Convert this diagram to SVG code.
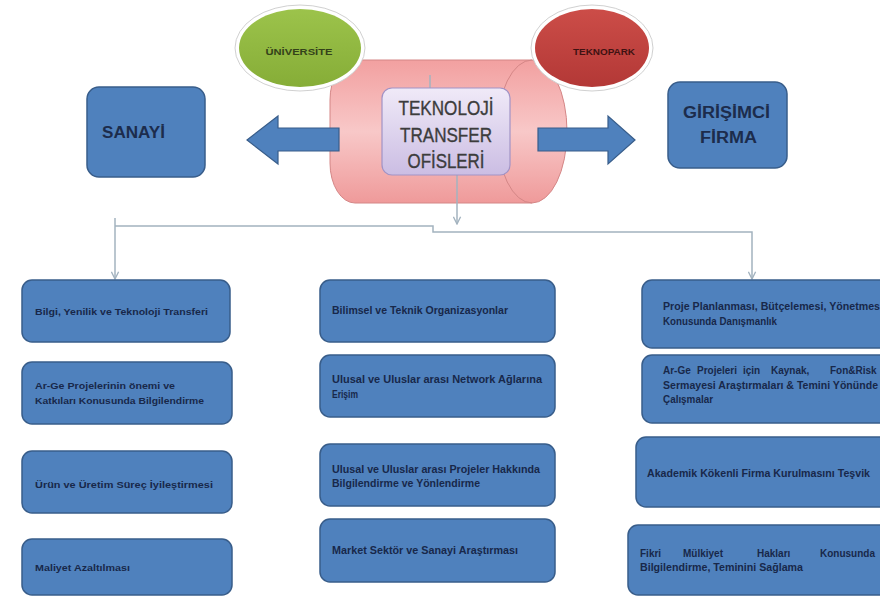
<svg xmlns="http://www.w3.org/2000/svg" width="880" height="601" viewBox="0 0 880 601">
<style>
.box{fill:#4f81bd;stroke:#385d8a;stroke-width:1.5}
.bt{font-family:"Liberation Sans",Arial,sans-serif;font-weight:bold;fill:#18284a;font-size:10px}
.bts{font-family:"Liberation Sans",Arial,sans-serif;font-weight:bold;fill:#18284a;font-size:9.5px}
.big{font-family:"Liberation Sans",Arial,sans-serif;font-weight:bold;fill:#1c2c4c;font-size:16px}
.conn{fill:none;stroke:#a3b3bf;stroke-width:1.5}
.blk{fill:#4f81bd;stroke:#385d8a;stroke-width:1.2}
.tto{font-family:"Liberation Sans",Arial,sans-serif;fill:#3c3c3c;font-size:20px;stroke:#3c3c3c;stroke-width:0.35}
.ell{font-family:"Liberation Sans",Arial,sans-serif;font-weight:bold;font-size:9px}
</style>
<defs>
<linearGradient id="pink" x1="0" y1="0" x2="0" y2="1">
<stop offset="0" stop-color="#f2a0a0"/><stop offset="0.5" stop-color="#f8c8c8"/><stop offset="1" stop-color="#ef9a9a"/>
</linearGradient>
<linearGradient id="lav" x1="0" y1="0" x2="0" y2="1">
<stop offset="0" stop-color="#f0eaf8"/><stop offset="1" stop-color="#cbbde3"/>
</linearGradient>
<linearGradient id="green" x1="0" y1="0" x2="0" y2="1">
<stop offset="0" stop-color="#9cc34b"/><stop offset="1" stop-color="#86ad37"/>
</linearGradient>
<linearGradient id="red" x1="0" y1="0" x2="0" y2="1">
<stop offset="0" stop-color="#cc4d48"/><stop offset="1" stop-color="#b33836"/>
</linearGradient>
<marker id="ah" viewBox="0 0 10 10" refX="9" refY="5" markerWidth="9" markerHeight="9" markerUnits="userSpaceOnUse" orient="auto">
<path d="M1,1 L9,5 L1,9" fill="none" stroke="#a3b3bf" stroke-width="1.5"/>
</marker>
</defs>
<rect width="880" height="601" fill="#ffffff"/>

<g id="ofis-silindir">
<path d="M355,60 H532 A35,71.5 0 0 1 532,203 H355 A25,40 0 0 1 330,163 V100 A25,40 0 0 1 355,60 Z" fill="url(#pink)" stroke="#d48686" stroke-width="1"/>
<path d="M532,60 A35,71.5 0 0 0 532,203" fill="none" stroke="#d48686" stroke-width="1"/>
</g>

<g id="universite">
<ellipse cx="300" cy="48" rx="65" ry="43" fill="#ffffff" stroke="#c4c4c4" stroke-width="0.8"/>
<ellipse cx="300" cy="48" rx="61" ry="39" fill="url(#green)"/>
<text class="ell" x="299" y="55" text-anchor="middle" fill="#34421a" textLength="67" lengthAdjust="spacingAndGlyphs">ÜNİVERSİTE</text>
</g>

<g id="teknopark">
<ellipse cx="592" cy="48" rx="61" ry="43" fill="#ffffff" stroke="#c4c4c4" stroke-width="0.8"/>
<ellipse cx="592" cy="48" rx="57" ry="39" fill="url(#red)"/>
<text class="ell" x="604" y="55" text-anchor="middle" fill="#3e1212" textLength="62" lengthAdjust="spacingAndGlyphs">TEKNOPARK</text>
</g>

<g id="ok-sol">
<path class="blk" d="M247,140 L278,116 L278,128 L339,128 L339,151 L278,151 L278,164 Z"/>
</g>
<g id="ok-sag">
<path class="blk" d="M635,140 L608,116 L608,128 L538,128 L538,151 L608,151 L608,164 Z"/>
</g>

<g id="sanayi">
<rect class="box" x="87" y="87" width="118" height="90" rx="12"/>
<text class="big" x="102" y="138" textLength="63" lengthAdjust="spacingAndGlyphs">SANAYİ</text>
</g>

<g id="girisimci-firma">
<rect class="box" x="668" y="82" width="119" height="86" rx="12"/>
<text class="big" x="683" y="118" textLength="87" lengthAdjust="spacingAndGlyphs">GİRİŞİMCİ</text>
<text class="big" x="700" y="143" textLength="57" lengthAdjust="spacingAndGlyphs">FİRMA</text>
</g>

<g id="connectors">
<path class="conn" d="M430,75 V88"/>
<path class="conn" d="M457,175 V224" marker-end="url(#ah)"/>
<path class="conn" d="M115,218 V279" marker-end="url(#ah)"/>
<path class="conn" d="M115,226 H433 V232 H752 V279" marker-end="url(#ah)"/>
</g>

<g id="tto">
<rect x="382" y="88" width="128" height="87" rx="10" fill="url(#lav)" stroke="#a193c6" stroke-width="1.2"/>
<text class="tto" x="446" y="115" text-anchor="middle" textLength="95" lengthAdjust="spacingAndGlyphs">TEKNOLOJİ</text>
<text class="tto" x="446" y="142" text-anchor="middle" textLength="92" lengthAdjust="spacingAndGlyphs">TRANSFER</text>
<text class="tto" x="446" y="168" text-anchor="middle" textLength="77" lengthAdjust="spacingAndGlyphs">OFİSLERİ</text>
</g>

<g id="l1">
<rect class="box" x="22" y="280" width="208" height="62" rx="10"/>
<text class="bts" x="35" y="315" textLength="173" lengthAdjust="spacingAndGlyphs">Bilgi, Yenilik ve Teknoloji Transferi</text>
</g>
<g id="l2">
<rect class="box" x="22" y="362" width="210" height="62" rx="10"/>
<text class="bts" x="35" y="389" textLength="140" lengthAdjust="spacingAndGlyphs">Ar-Ge Projelerinin önemi ve</text>
<text class="bts" x="35" y="404" textLength="169" lengthAdjust="spacingAndGlyphs">Katkıları Konusunda  Bilgilendirme</text>
</g>
<g id="l3">
<rect class="box" x="22" y="451" width="210" height="62" rx="10"/>
<text class="bts" x="35" y="488" textLength="178" lengthAdjust="spacingAndGlyphs">Ürün ve Üretim Süreç İyileştirmesi</text>
</g>
<g id="l4">
<rect class="box" x="22" y="539" width="210" height="56" rx="10"/>
<text class="bts" x="35" y="571" textLength="95" lengthAdjust="spacingAndGlyphs">Maliyet Azaltılması</text>
</g>

<g id="m1">
<rect class="box" x="320" y="280" width="235" height="62" rx="10"/>
<text class="bt" x="332" y="314" textLength="176" lengthAdjust="spacingAndGlyphs">Bilimsel ve Teknik Organizasyonlar</text>
</g>
<g id="m2">
<rect class="box" x="320" y="355" width="235" height="62" rx="10"/>
<text class="bt" x="332" y="383" textLength="210" lengthAdjust="spacingAndGlyphs">Ulusal ve Uluslar arası Network Ağlarına</text>
<text class="bt" x="332" y="398" textLength="26" lengthAdjust="spacingAndGlyphs">Erişim</text>
</g>
<g id="m3">
<rect class="box" x="320" y="444" width="235" height="62" rx="10"/>
<text class="bt" x="332" y="473" textLength="208" lengthAdjust="spacingAndGlyphs">Ulusal ve Uluslar arası Projeler Hakkında</text>
<text class="bt" x="332" y="487" textLength="148" lengthAdjust="spacingAndGlyphs">Bilgilendirme ve Yönlendirme</text>
</g>
<g id="m4">
<rect class="box" x="320" y="519" width="235" height="63" rx="10"/>
<text class="bt" x="332" y="554" textLength="186" lengthAdjust="spacingAndGlyphs">Market Sektör ve Sanayi Araştırması</text>
</g>

<g id="r1">
<rect class="box" x="642" y="280" width="260" height="68" rx="10"/>
<text class="bt" x="663" y="310" textLength="220" lengthAdjust="spacingAndGlyphs">Proje Planlanması, Bütçelemesi, Yönetmesi</text>
<text class="bt" x="663" y="324.5" textLength="114" lengthAdjust="spacingAndGlyphs">Konusunda Danışmanlık</text>
</g>
<g id="r2">
<rect class="box" x="642" y="355" width="260" height="68" rx="10"/>
<text class="bt" y="374"><tspan x="663">Ar-Ge</tspan><tspan x="697">Projeleri</tspan><tspan x="743">için</tspan><tspan x="771">Kaynak,</tspan><tspan x="830">Fon&amp;Risk</tspan></text>
<text class="bt" x="663" y="388.5" textLength="215" lengthAdjust="spacingAndGlyphs">Sermayesi Araştırmaları &amp; Temini Yönünde</text>
<text class="bt" x="663" y="403" textLength="50" lengthAdjust="spacingAndGlyphs">Çalışmalar</text>
</g>
<g id="r3">
<rect class="box" x="636" y="437" width="266" height="70" rx="10"/>
<text class="bt" x="647" y="477" textLength="223" lengthAdjust="spacingAndGlyphs">Akademik Kökenli Firma Kurulmasını Teşvik</text>
</g>
<g id="r4">
<rect class="box" x="628" y="525" width="274" height="70" rx="10"/>
<text class="bt" y="557"><tspan x="640">Fikri</tspan><tspan x="683">Mülkiyet</tspan><tspan x="757">Hakları</tspan><tspan x="820">Konusunda</tspan></text>
<text class="bt" x="640" y="571" textLength="163" lengthAdjust="spacingAndGlyphs">Bilgilendirme, Teminini Sağlama</text>
</g>
</svg>
